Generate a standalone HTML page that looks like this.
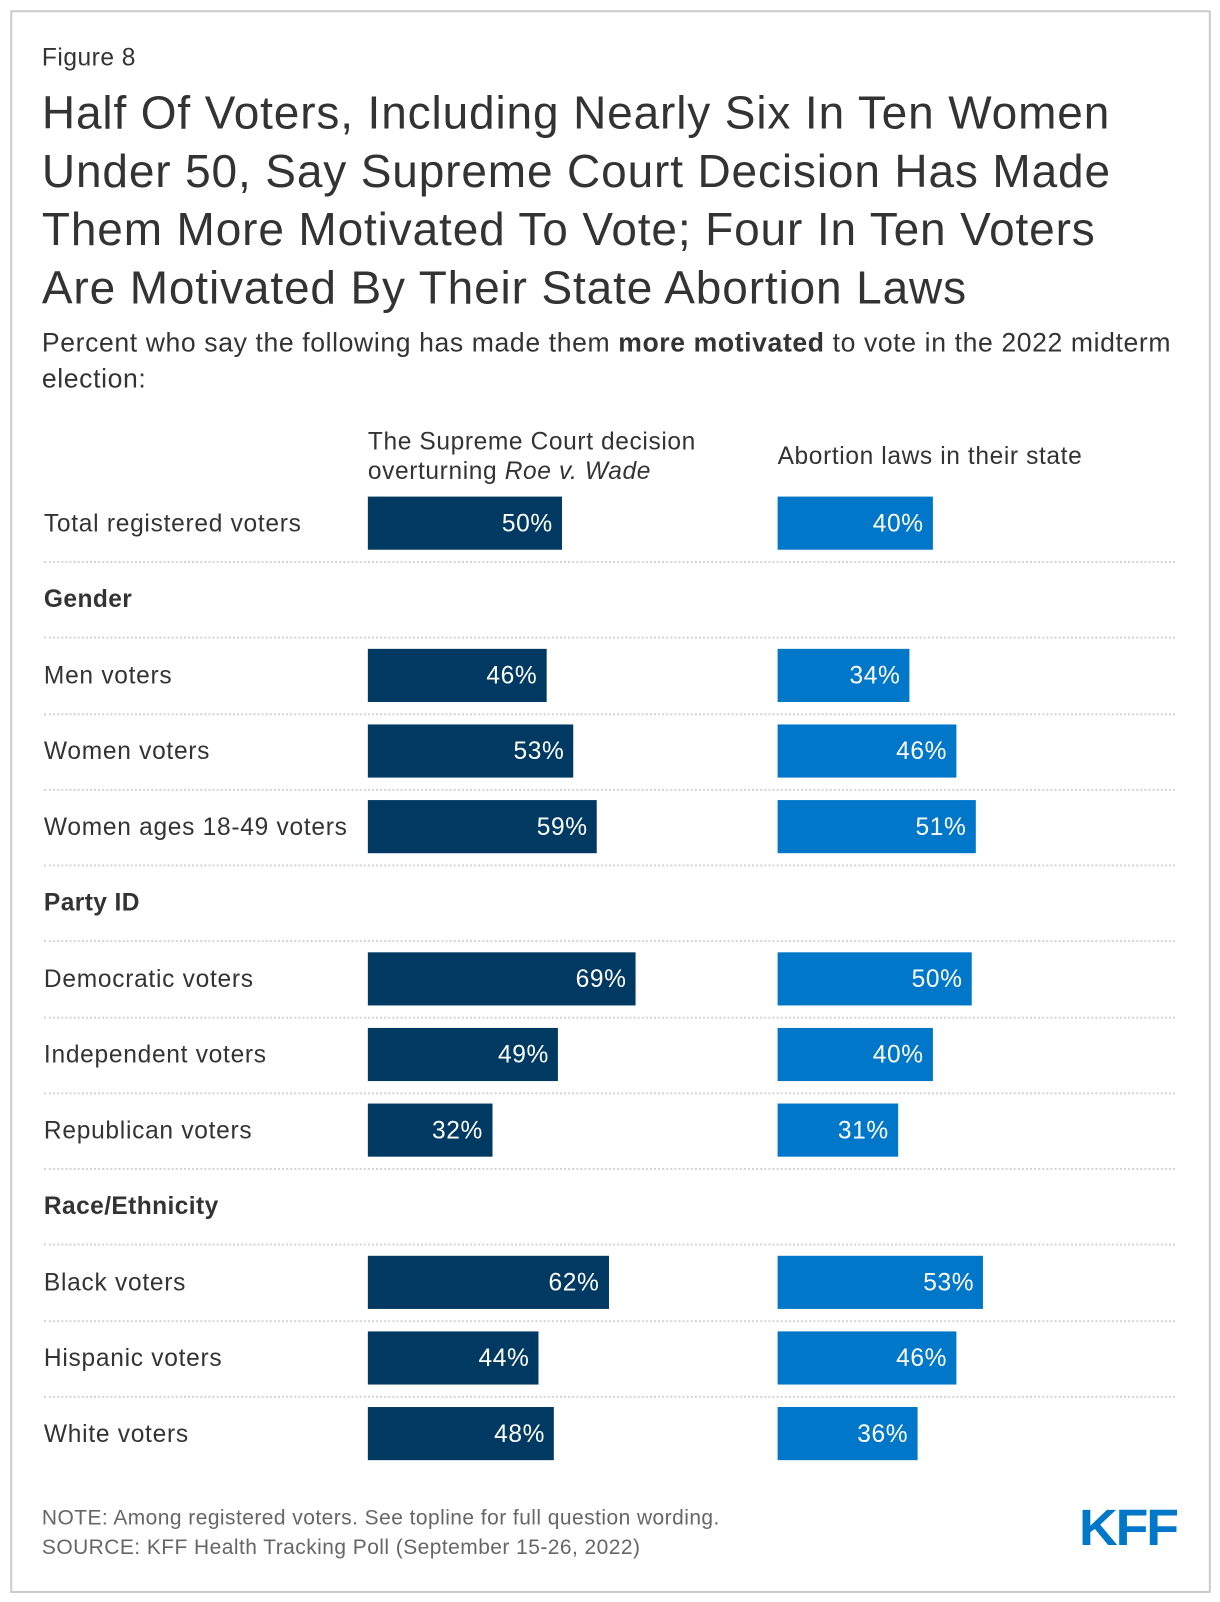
<!DOCTYPE html>
<html><head><meta charset="utf-8"><style>
html,body{margin:0;padding:0;background:#fff;}
body{width:1220px;height:1602px;overflow:hidden;position:relative;font-family:"Liberation Sans",Arial,sans-serif;color:#333;}
#wrap{position:absolute;left:0;top:0;width:1194px;height:1568px;transform:scale(1.0218);transform-origin:0 0;}
.frame{position:absolute;left:10px;top:10px;width:1171px;height:1545px;border:2px solid #ccc;}
.t{position:absolute;white-space:nowrap;}
</style></head><body>
<div id="wrap">
<div class="frame"></div>
<div class="t" style="left:41px;top:43px;font-size:24px;letter-spacing:0.5px;">Figure 8</div>
<div class="t" style="left:41px;top:82px;font-size:45px;letter-spacing:0.85px;line-height:57px;color:#333;">Half Of Voters, Including Nearly Six In Ten Women<br>Under 50, Say Supreme Court Decision Has Made<br>Them More Motivated To Vote; Four In Ten Voters<br>Are Motivated By Their State Abortion Laws</div>
<div class="t" style="left:41px;top:318px;font-size:26px;letter-spacing:0.6px;line-height:35px;">Percent who say the following has made them <b>more motivated</b> to vote in the 2022 midterm<br>election:</div>
<div class="t" style="left:360px;top:418px;font-size:24px;letter-spacing:0.6px;line-height:29px;">The Supreme Court decision<br>overturning <i>Roe v. Wade</i></div>
<div class="t" style="left:761px;top:433px;font-size:24px;letter-spacing:0.6px;">Abortion laws in their state</div>
<div id="rows"></div>
<div class="t" style="left:41px;top:1471px;font-size:20.5px;letter-spacing:0.45px;color:#666;line-height:29px;">NOTE: Among registered voters. See topline for full question wording.<br>SOURCE: KFF Health Tracking Poll (September 15-26, 2022)</div>
<div class="t" style="left:1056px;top:1466px;font-size:50px;font-weight:bold;color:#0077c8;letter-spacing:-2px;transform:scaleX(1.05);transform-origin:0 0;">KFF</div>
</div>
<script>
const categories=["Total registered voters","Gender","Men voters","Women voters","Women ages 18-49 voters","Party ID","Democratic voters","Independent voters","Republican voters","Race/Ethnicity","Black voters","Hispanic voters","White voters"];
const scotusValues=[50,null,46,53,59,null,69,49,32,null,62,44,48];
const stateValues=[40,null,34,46,51,null,50,40,31,null,53,46,36];
const x0a=360,x0b=761,pxPer=3.8,rowTop=512,pitch=74.25,barH=52;
const rows=document.getElementById('rows');
function xs(v){return v*pxPer;}
function mk(css){const d=document.createElement('div');d.style.cssText='position:absolute;'+css;rows.appendChild(d);return d;}
categories.forEach((c,i)=>{
  const cy=rowTop+i*pitch;
  const hdr=scotusValues[i]===null;
  const l=mk(`left:43px;top:${cy-13}px;font-size:24px;letter-spacing:0.7px;white-space:nowrap;${hdr?'font-weight:bold;letter-spacing:0.4px;':''}`);
  l.textContent=c;
  
  
  if(!hdr){
    [[scotusValues[i],x0a,'#003a63','bar-scotus'],[stateValues[i],x0b,'#0077c8','bar-state-laws']].forEach(([v,x0,col,nm])=>{
      const b=mk(`left:${x0}px;top:${cy-barH/2}px;width:${xs(v)}px;height:${barH}px;background:${col};color:#fff;font-size:24px;letter-spacing:0.6px;line-height:${barH+2}px;text-align:right;box-sizing:border-box;padding-right:9px;white-space:nowrap;`);
      b.textContent=v+'%';
      
      
    });
  }
  if(i<categories.length-1){
    const s=mk(`left:43px;top:${cy+pitch/2}px;width:1107px;height:0;border-top:2px dotted #d5d5d5;`);
    
    
  }
});
</script>
</body></html>
